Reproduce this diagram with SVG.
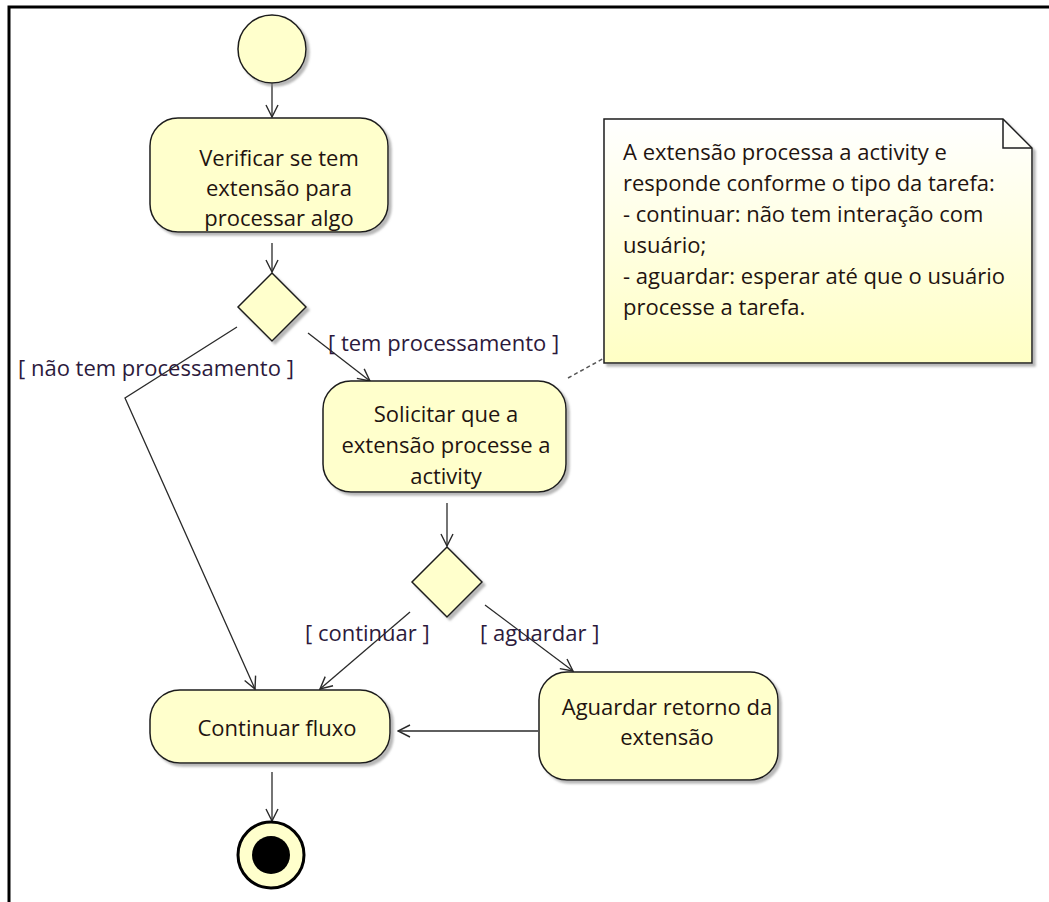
<svg xmlns="http://www.w3.org/2000/svg" width="1049" height="902" viewBox="0 0 1049 902">
  <style>
    .node { fill: #FFFFCC; stroke: #1e1e1e; stroke-width: 1.5; filter: url(#shadow); }
    .lbl { font-family: "Open Sans", "Noto Sans", "Liberation Sans", sans-serif; font-size: 22px; fill: #1f1410; }
    .guard { font-family: "Open Sans", "Noto Sans", "Liberation Sans", sans-serif; font-size: 22px; fill: #2c1a3c; }
    .flow { fill: none; stroke: #2a2a2a; stroke-width: 1.3; marker-end: url(#open); }
    .mid { text-anchor: middle; }
  </style>
  <defs>
    <filter id="shadow" x="-10%" y="-10%" width="130%" height="130%">
      <feDropShadow dx="3" dy="3" stdDeviation="1.2" flood-color="#888" flood-opacity="0.6"/>
    </filter>
    <linearGradient id="noteFill" x1="0" y1="0" x2="0" y2="1">
      <stop offset="0" stop-color="#FFFFFF"/>
      <stop offset="1" stop-color="#FFFFC4"/>
    </linearGradient>
    <marker id="open" viewBox="0 0 14 14" markerWidth="14" markerHeight="14" refX="13" refY="7" orient="auto" markerUnits="userSpaceOnUse">
      <path d="M1,1 L13,7 L1,13" fill="none" stroke="#2a2a2a" stroke-width="1.4"/>
    </marker>
  </defs>

  <!-- frame -->
  <path d="M9,902 V7 H1049" fill="none" stroke="#000" stroke-width="3"/>

  <!-- flows -->
  <g id="connectors">
    <line class="flow" x1="272" y1="83" x2="272" y2="117"/>
    <line class="flow" x1="272" y1="243" x2="272" y2="272"/>
    <polyline class="flow" points="237,327 125,398 255,689"/>
    <line class="flow" x1="308" y1="333" x2="370" y2="381"/>
    <line class="flow" x1="447" y1="503" x2="447" y2="546"/>
    <line class="flow" x1="410" y1="612" x2="320" y2="689"/>
    <line class="flow" x1="485" y1="605" x2="573" y2="671"/>
    <line class="flow" x1="538" y1="731" x2="398" y2="731"/>
    <line class="flow" x1="272" y1="772" x2="272" y2="821"/>
    <line x1="568" y1="378" x2="608" y2="356" stroke="#555" stroke-width="1.5" stroke-dasharray="4,3"/>
    <text class="guard" x="18" y="376">[ não tem processamento ]</text>
    <text class="guard" x="328" y="351">[ tem processamento ]</text>
    <text class="guard" x="305" y="641">[ continuar ]</text>
    <text class="guard" x="480" y="641">[ aguardar ]</text>
  </g>

  <g id="start">
    <circle class="node" cx="272" cy="49" r="34"/>
  </g>

  <g id="verificar">
    <rect class="node" x="150" y="118" width="238" height="114" rx="28"/>
    <text class="lbl mid" x="279" y="166">Verificar se tem</text>
    <text class="lbl mid" x="279" y="196">extensão para</text>
    <text class="lbl mid" x="279" y="226">processar algo</text>
  </g>

  <g id="decisao1">
    <polygon class="node" points="272,273 306,307 272,341 238,307"/>
  </g>

  <g id="solicitar">
    <rect class="node" x="323" y="381" width="243" height="111" rx="28"/>
    <text class="lbl mid" x="446" y="422">Solicitar que a</text>
    <text class="lbl mid" x="446" y="453">extensão processe a</text>
    <text class="lbl mid" x="446" y="484">activity</text>
  </g>

  <g id="nota">
    <path d="M604,119 H1003 L1032,148 V363 H604 Z" fill="url(#noteFill)" stroke="#1e1e1e" stroke-width="1.5" filter="url(#shadow)"/>
    <path d="M1003,119 V148 H1032" fill="none" stroke="#1e1e1e" stroke-width="1.5"/>
    <text class="lbl" x="623" y="160">A extensão processa a activity e</text>
    <text class="lbl" x="623" y="191">responde conforme o tipo da tarefa:</text>
    <text class="lbl" x="623" y="222">- continuar: não tem interação com</text>
    <text class="lbl" x="623" y="253">usuário;</text>
    <text class="lbl" x="623" y="284">- aguardar: esperar até que o usuário</text>
    <text class="lbl" x="623" y="315">processe a tarefa.</text>
  </g>

  <g id="decisao2">
    <polygon class="node" points="447,547 482,582 447,617 412,582"/>
  </g>

  <g id="continuar">
    <rect class="node" x="150" y="690" width="240" height="73" rx="30"/>
    <text class="lbl mid" x="277" y="736">Continuar fluxo</text>
  </g>

  <g id="aguardar">
    <rect class="node" x="539" y="672" width="239" height="108" rx="28"/>
    <text class="lbl mid" x="667" y="715">Aguardar retorno da</text>
    <text class="lbl mid" x="667" y="745">extensão</text>
  </g>

  <g id="fim">
    <circle cx="271" cy="855" r="33" fill="#FFFFCC" stroke="#000" stroke-width="3"/>
    <circle cx="271" cy="855" r="19" fill="#000"/>
  </g>
</svg>
